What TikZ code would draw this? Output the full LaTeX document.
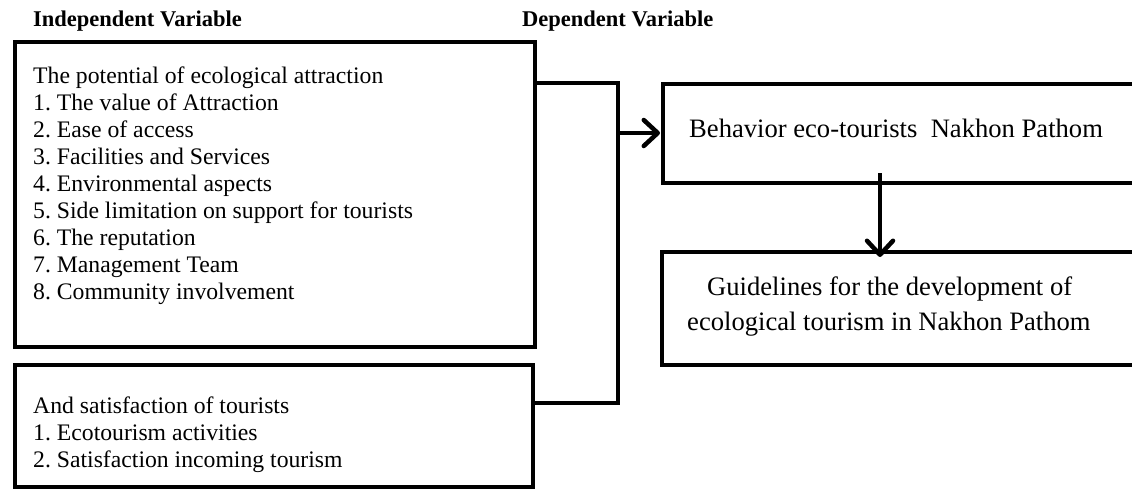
\documentclass[tikz,border=0pt]{standalone}
\usepackage{fontspec}
\setmainfont{Liberation Serif}
\usetikzlibrary{arrows.meta}
\frenchspacing
\begin{document}
\begin{tikzpicture}[x=1pt,y=-1pt,
  box/.style={draw, line width=4.5pt, anchor=north west, inner sep=0pt, outer sep=0pt},
  conn/.style={line width=4.5pt},
  arr/.style={line width=4.5pt, -{Straight Barb[length=14pt,width=26pt,line cap=round,line join=round]}},
  head/.style={anchor=base west, inner sep=0pt, font=\fontsize{22.5}{27}\selectfont\bfseries},
  ltxt/.style={anchor=base west, inner sep=0pt, font=\fontsize{23.7}{27.1}\selectfont},
  rtxt/.style={anchor=base west, inner sep=0pt, font=\fontsize{26.6}{35}\selectfont}]
\useasboundingbox (0,0) rectangle (1132,490);
\clip (0,0) rectangle (1132,490);

% headings
\node[head] (hind) at (33,26) {Independent Variable};
\node[head] (hdep) at (522,26) {Dependent Variable};

% boxes
\node[box, minimum width=520pt, minimum height=305pt] (b1) at (15,42) {};
\node[box, minimum width=518pt, minimum height=122pt] (b2) at (15,365) {};
\node[box, minimum width=520pt, minimum height=99pt] (b3) at (663,84) {};
\node[box, minimum width=520pt, minimum height=113pt] (b4) at (662,252) {};

% independent variables
\node[ltxt] (t0) at (33,83) {The potential of ecological attraction};
\node[ltxt] (t1) at (33,110.1) {1. The value of Attraction};
\node[ltxt] (t2) at (33,137.2) {2. Ease of access};
\node[ltxt] (t3) at (33,164.3) {3. Facilities and Services};
\node[ltxt] (t4) at (33,191.4) {4. Environmental aspects};
\node[ltxt] (t5) at (33,218.5) {5. Side limitation on support for tourists};
\node[ltxt] (t6) at (33,245.6) {6. The reputation};
\node[ltxt] (t7) at (33,272.7) {7. Management Team};
\node[ltxt] (t8) at (33,299.8) {8. Community involvement};

\node[ltxt] (s0) at (33,413) {And satisfaction of tourists};
\node[ltxt] (s1) at (33,440) {1. Ecotourism activities};
\node[ltxt] (s2) at (33,467) {2. Satisfaction incoming tourism};

% dependent variables
\node[rtxt] (r1) at (689,137) {Behavior eco-tourists\ \ Nakhon Pathom};
\node[rtxt] (r2) at (707,295) {Guidelines for the development of};
\node[rtxt] (r3) at (687,330) {ecological tourism in Nakhon Pathom};

% bracket joining both groups
\coordinate (jt) at (618,83);
\coordinate (jb) at (618,403);
\coordinate (jm) at (618,133);
\draw[conn] (b1.east |- jt) -- (jt) -- (jb) -- (b2.east |- jb);
\draw[arr, shorten >=3pt] (jm) -- (b3.west |- jm);

% behaviour leads to guidelines
\coordinate (d0) at (880,173);
\draw[arr, shorten >=-5pt] (d0) -- (b4.north -| d0);
\end{tikzpicture}
\end{document}
